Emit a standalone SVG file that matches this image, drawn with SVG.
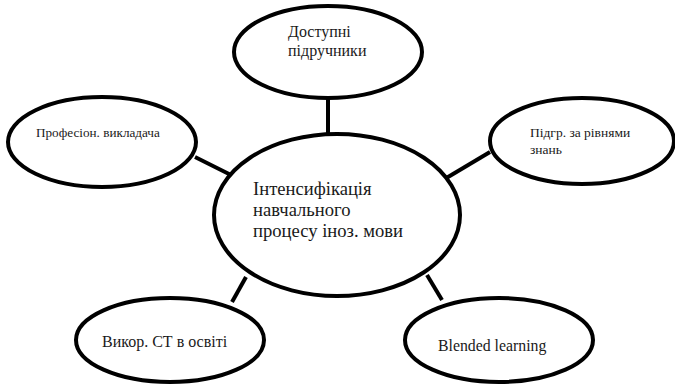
<svg xmlns="http://www.w3.org/2000/svg" width="675" height="385" viewBox="0 0 675 385">
<style>
.n{fill:#fff;stroke:#000;stroke-width:4}
.c{stroke:#000;stroke-width:4;fill:none}
.t{font-family:'Liberation Serif','Times New Roman',serif;fill:#1a1a1a}
</style>
<rect width="675" height="385" fill="#fff"/>
<g id="connectors">
<line class="c" x1="328" y1="98" x2="328" y2="135"/>
<line class="c" x1="195" y1="157" x2="231" y2="175"/>
<line class="c" x1="490" y1="152" x2="443" y2="180"/>
<line class="c" x1="232" y1="302" x2="246" y2="277"/>
<line class="c" x1="427" y1="275" x2="442" y2="300"/>
</g>
<g id="center">
<ellipse class="n" cx="337" cy="215" rx="123" ry="81"/>
<text class="t" font-size="18.6"><tspan x="253" y="195">Інтенсифікація</tspan><tspan x="253" y="216">навчального</tspan><tspan x="253" y="237">процесу іноз. мови</tspan></text>
</g>
<g id="top">
<ellipse class="n" cx="328" cy="52" rx="94" ry="46"/>
<text class="t" font-size="16"><tspan x="288" y="37">Доступні</tspan><tspan x="288" y="56">підручники</tspan></text>
</g>
<g id="left">
<ellipse class="n" cx="102" cy="142" rx="94" ry="45"/>
<text class="t" font-size="13.2" x="36" y="137">Професіон. викладача</text>
</g>
<g id="right">
<ellipse class="n" cx="582" cy="141" rx="92" ry="43"/>
<text class="t" font-size="13.5"><tspan x="530" y="137">Підгр. за рівнями</tspan><tspan x="530" y="154">знань</tspan></text>
</g>
<g id="bottom-left">
<ellipse class="n" cx="170" cy="340" rx="94" ry="42"/>
<text class="t" font-size="16" x="102" y="347">Викор. СТ в освіті</text>
</g>
<g id="bottom-right">
<ellipse class="n" cx="499" cy="340" rx="94" ry="42"/>
<text class="t" font-size="15.8" x="438" y="351">Blended learning</text>
</g>
</svg>
